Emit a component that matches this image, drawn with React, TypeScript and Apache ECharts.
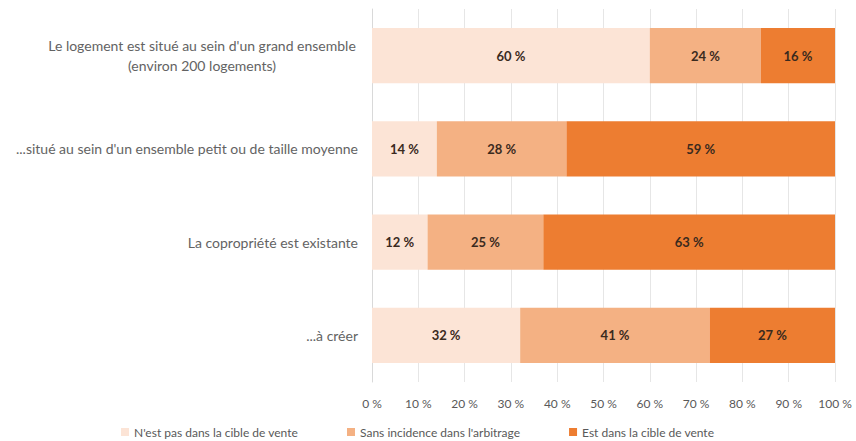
import React, { useEffect, useRef } from "react";
import * as echarts from "echarts";

const categories = [
  "Le logement est situé au sein d'un grand ensemble\n(environ 200 logements)",
  "...situé au sein d'un ensemble petit ou de taille moyenne",
  "La copropriété est existante",
  "...à créer",
];
const seriesNames = [
  "N'est pas dans la cible de vente",
  "Sans incidence dans l'arbitrage",
  "Est dans la cible de vente",
];
const notTarget = [60, 14, 12, 32];
const noImpact = [24, 28, 25, 41];
const inTarget = [16, 59, 63, 27];
const colors = ["#FCE4D6", "#F4B183", "#ED7D31"];

const FONT = "Lato, 'Open Sans', sans-serif";

export default function App() {
  const ref = useRef<HTMLDivElement>(null);
  useEffect(() => {
    if (!ref.current) return;
    const chart = echarts.init(ref.current, undefined, { renderer: "svg" });
    const values = [notTarget, noImpact, inTarget];
    chart.setOption({
      animation: false,
      textStyle: { fontFamily: FONT },
      grid: { left: 372, right: 21, top: 9, bottom: 59 },
      legend: {
        top: 421,
        left: 116,
        itemWidth: 8,
        itemHeight: 8,
        itemGap: 49,
        icon: "rect",
        textStyle: { color: "#595959", fontSize: 12, fontFamily: FONT },
        data: seriesNames,
      },
      xAxis: {
        type: "value",
        min: 0,
        max: 100,
        interval: 10,
        axisLabel: {
          formatter: (v: number) => `${v} %`,
          color: "#595959",
          fontSize: 12,
          margin: 15,
        },
        axisLine: { show: false },
        axisTick: { show: false },
        splitLine: { lineStyle: { color: "#E6E6E6" } },
      },
      yAxis: {
        type: "category",
        inverse: true,
        data: categories,
        axisLine: { show: true, lineStyle: { color: "#D9D9D9" } },
        axisTick: { show: false },
        axisLabel: {
          color: "#636363",
          fontSize: 14,
          margin: 14,
          lineHeight: 20,
          formatter: (v: string) =>
            v.includes("\n")
              ? v
                  .split("\n")
                  .map((l) => `{c|${l}}`)
                  .join("\n")
              : v,
          rich: {
            c: { width: 312, align: "center", color: "#636363", fontSize: 14, lineHeight: 20 },
          },
        },
      },
      series: seriesNames.map((name, i) => ({
        name,
        type: "bar",
        stack: "total",
        barCategoryGap: "41%",
        data: values[i],
        itemStyle: { color: colors[i] },
        label: {
          show: true,
          position: "inside",
          formatter: (p: any) => `${p.value} %`,
          color: "#3A2A1E",
          fontWeight: "bold",
          fontSize: 13,
        },
      })),
    });
    return () => chart.dispose();
  }, []);
  return (
    <div
      ref={ref}
      style={{ position: "absolute", left: 0, top: 0, width: 856, height: 441 }}
    />
  );
}
